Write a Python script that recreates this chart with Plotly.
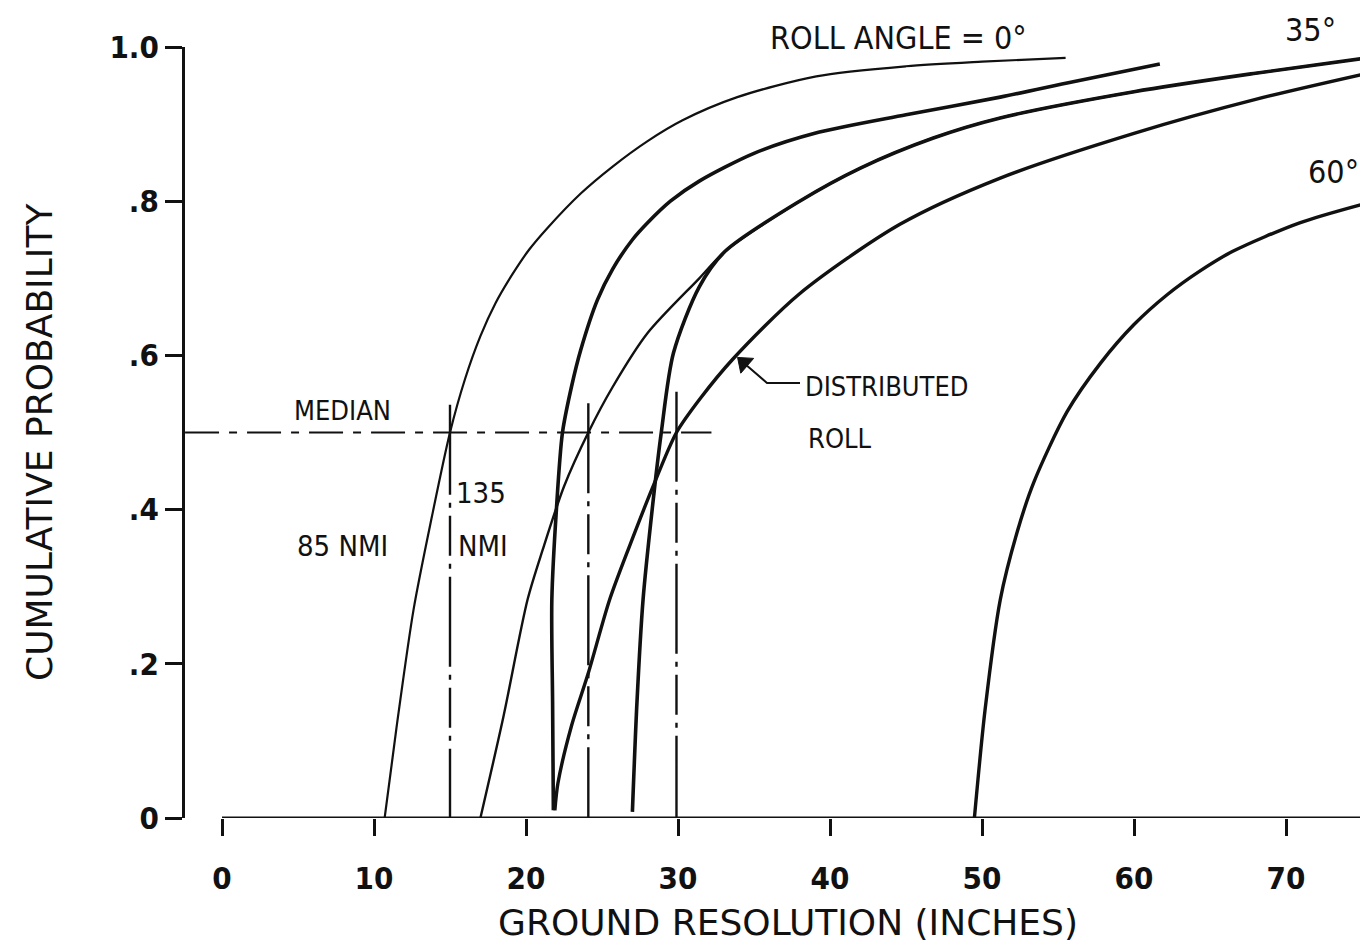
import plotly.graph_objects as go

# ---------------- data ----------------
# Roll angle 0 deg curve (thin, median 15 in)
c1_x = [10.7, 11.5, 12.6, 13.8, 15.0, 16.0, 17.0, 18.0, 19.1, 20.2, 21.4, 23.6, 25.7, 28.0, 30.3, 33.9, 39.1, 45.0, 50.0, 55.5]
c1_y = [0.0, 0.12, 0.27, 0.39, 0.50, 0.57, 0.625, 0.668, 0.705, 0.737, 0.765, 0.81, 0.845, 0.878, 0.905, 0.935, 0.962, 0.975, 0.981, 0.986]

# thick curve starting at the "V" near 22 in
cA_x = [21.8, 21.75, 21.7, 22.0, 22.4, 23.0, 23.6, 24.7, 25.7, 27.0, 28.0, 29.5, 31.4, 35.0, 39.0, 45.0, 51.2, 56.0, 61.7]
cA_y = [0.01, 0.15, 0.283, 0.40, 0.50, 0.56, 0.607, 0.672, 0.712, 0.75, 0.772, 0.80, 0.826, 0.862, 0.888, 0.912, 0.935, 0.955, 0.978]

# thin curve with median 24 in
c2_x = [17.0, 18.5, 20.1, 21.1, 22.5, 24.1, 25.7, 28.0, 31.4, 33.1, 38.0, 42.0, 46.8, 51.2, 60.0, 68.0, 75.4]
c2_y = [0.0, 0.13, 0.283, 0.348, 0.43, 0.50, 0.559, 0.629, 0.70, 0.735, 0.80, 0.843, 0.882, 0.908, 0.942, 0.966, 0.986]

# thick curve starting near 27 in
cB_x = [27.0, 27.3, 27.7, 28.3, 28.9, 29.7, 31.4, 33.1, 38.0, 42.0, 46.8, 51.2, 60.0, 68.0, 75.4]
cB_y = [0.008, 0.15, 0.283, 0.40, 0.50, 0.603, 0.689, 0.735, 0.80, 0.843, 0.882, 0.908, 0.942, 0.966, 0.986]

# distributed roll
cD_x = [21.9, 22.1, 23.0, 24.1, 25.5, 26.8, 28.4, 29.9, 31.5, 33.6, 38.0, 44.6, 51.2, 60.0, 68.0, 75.4]
cD_y = [0.01, 0.045, 0.12, 0.188, 0.283, 0.352, 0.432, 0.50, 0.545, 0.595, 0.68, 0.77, 0.83, 0.888, 0.932, 0.966]

# roll angle 60 deg
c60_x = [49.5, 50.2, 51.2, 52.3, 53.4, 55.6, 57.8, 60.0, 62.2, 64.3, 66.5, 70.9, 75.4]
c60_y = [0.0, 0.14, 0.283, 0.37, 0.435, 0.527, 0.59, 0.64, 0.679, 0.709, 0.735, 0.772, 0.798]

# median construction lines
median_level = 0.5
median_line_x = [-2.43, 32.2]
median_x = [15.0, 24.1, 29.9]
median_top = [0.536, 0.538, 0.553]

x_ticks = [0, 10, 20, 30, 40, 50, 60, 70]
y_ticks = [0, 0.2, 0.4, 0.6, 0.8, 1.0]
y_ticktext = ["0", ".2", ".4", ".6", ".8", "1.0"]

# ---------------- figure ----------------
INK = "#111111"
NARROW = "Liberation Sans Narrow, DejaVu Sans Condensed, Roboto Condensed, Arial Narrow, DejaVu Sans, sans-serif"
WIDE = "DejaVu Sans, Verdana, sans-serif"

# page has an 8px body margin, so figure is 1360x940 placed at (8,8)
W, H = 1360, 940
L, R, T, B = 177, 0, 39, 130
PLOT_W = W - L - R
PLOT_H = H - T - B
px_per_unit = 15.2
x0_px = 222  # reference-page pixel of x = 0
x_range = [(L + 8 - x0_px) / px_per_unit, (W + 8 - R - x0_px) / px_per_unit]


def px2x(px):
    return (px - x0_px) / px_per_unit


def py2y(py):
    return (818 - py) / 771.0


def px2p(px):  # reference page pixel -> paper x
    return (px - 8 - L) / PLOT_W


def py2p(py):  # reference page pixel -> paper y
    return (H - B - (py - 8)) / PLOT_H


fig = go.Figure()

curves = [
    (c1_x, c1_y, 2.2),
    (cA_x, cA_y, 3.6),
    (c2_x, c2_y, 2.4),
    (cB_x, cB_y, 3.6),
    (cD_x, cD_y, 3.4),
    (c60_x, c60_y, 3.4),
]
for xs, ys, w in curves:
    fig.add_trace(go.Scatter(x=xs, y=ys, mode="lines",
                             line=dict(color=INK, width=w, shape="spline", smoothing=0.8),
                             showlegend=False, hoverinfo="skip"))

# median horizontal line
fig.add_trace(go.Scatter(x=median_line_x, y=[median_level, median_level], mode="lines",
                         line=dict(color=INK, width=2.2, dash="34px,10px,8px,10px"),
                         showlegend=False, hoverinfo="skip"))
# vertical median lines
for mx, mt in zip(median_x, median_top):
    fig.add_trace(go.Scatter(x=[mx, mx], y=[mt, 0], mode="lines",
                             line=dict(color=INK, width=2.4, dash="90px,8px,5px,8px,40px,8px,5px,8px"),
                             showlegend=False, hoverinfo="skip"))

# x axis baseline (starts at 0)
fig.add_shape(type="line", xref="x", yref="y", x0=0, x1=x_range[1], y0=0, y1=0,
              line=dict(color=INK, width=3), layer="above")

# leader line for DISTRIBUTED ROLL
fig.add_trace(go.Scatter(x=[px2x(800), px2x(767), px2x(745)], y=[py2y(383), py2y(383), py2y(364)],
                         mode="lines", line=dict(color=INK, width=2),
                         showlegend=False, hoverinfo="skip"))
# arrowhead at the curve
fig.add_trace(go.Scatter(x=[px2x(767), px2x(744)], y=[py2y(383), py2y(363)],
                         mode="markers",
                         marker=dict(symbol="triangle-up", angleref="previous", size=[0, 17],
                                     color=INK, opacity=1, line=dict(width=1, color=INK)),
                         showlegend=False, hoverinfo="skip"))

texts = [
    ("MEDIAN", 342, 410, "center", 27, NARROW),
    ("135", 481, 493, "center", 29, NARROW),
    ("NMI", 483, 546, "center", 29, NARROW),
    ("85 NMI", 342, 546, "center", 29, NARROW),
    ("DISTRIBUTED", 803, 386, "left", 27, NARROW),
    ("ROLL", 806, 438, "left", 27, NARROW),
    ("ROLL ANGLE = 0°", 768, 38, "left", 32, NARROW),
    ("35°", 1283, 30, "left", 32, NARROW),
    ("60°", 1306, 172, "left", 32, NARROW),
]
for t, px, py, xa, fs, fam in texts:
    fig.add_annotation(x=px2p(px), y=py2p(py), xref="paper", yref="paper", text=t, showarrow=False,
                       xanchor=xa, yanchor="middle", font=dict(family=fam, size=fs, color=INK))

# axis titles
fig.add_annotation(x=px2p(40), y=py2p(442), xref="paper", yref="paper",
                   text="CUMULATIVE PROBABILITY", textangle=-90, showarrow=False,
                   xanchor="center", yanchor="middle",
                   font=dict(family=WIDE, size=36, color=INK))
fig.add_annotation(x=px2p(788), y=py2p(922), xref="paper", yref="paper",
                   text="GROUND RESOLUTION (INCHES)", showarrow=False,
                   xanchor="center", yanchor="middle",
                   font=dict(family=WIDE, size=36, color=INK))

fig.update_layout(
    width=W, height=H,
    margin=dict(l=L, r=R, t=T, b=B, pad=0),
    paper_bgcolor="white", plot_bgcolor="white",
    showlegend=False,
    xaxis=dict(range=x_range, tickvals=x_ticks, ticks="outside", ticklen=17, tickwidth=2.5,
               tickcolor=INK, showline=False, showgrid=False, zeroline=False,
               ticklabelstandoff=16,
               tickfont=dict(family=NARROW, size=31, color=INK, weight="bold")),
    yaxis=dict(range=[0, 1.0], tickvals=y_ticks, ticktext=y_ticktext, ticks="outside",
               ticklen=17, tickwidth=2.5, tickcolor=INK, showline=True, linecolor=INK,
               linewidth=3, showgrid=False, zeroline=False,
               tickfont=dict(family=NARROW, size=31, color=INK, weight="bold")),
)

fig.write_html("out.html")
